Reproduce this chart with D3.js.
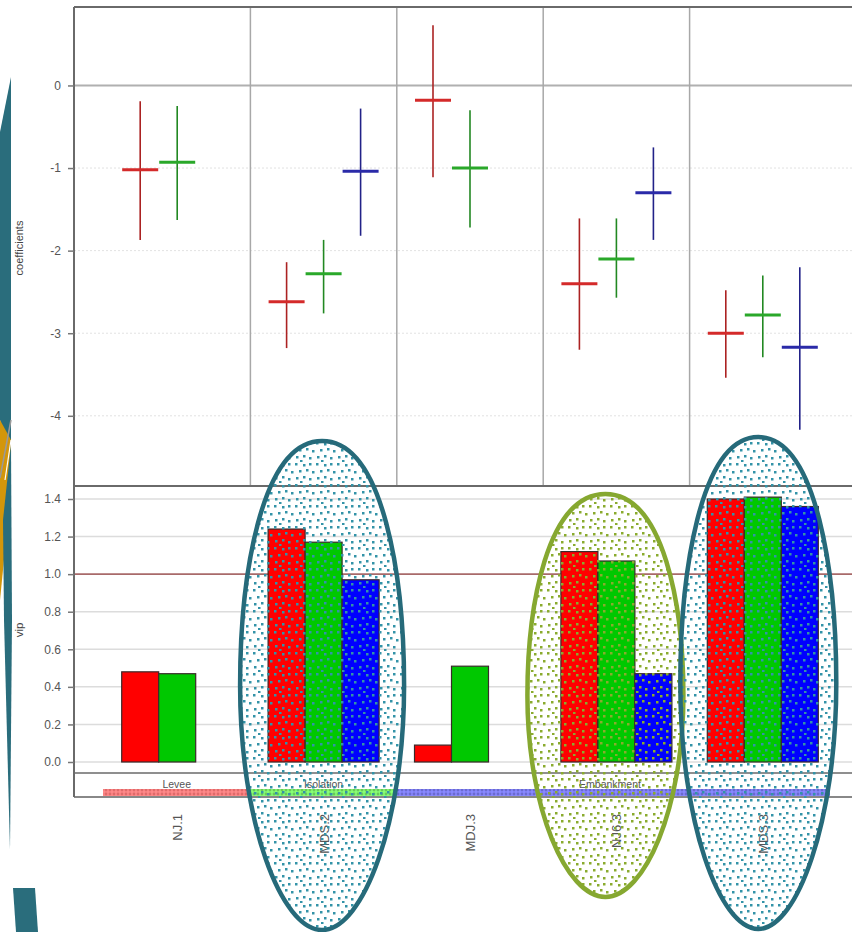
<!DOCTYPE html>
<html><head><meta charset="utf-8">
<script src="https://cdn.jsdelivr.net/npm/d3@7"></script>
<style>body{margin:0;background:#fff}svg{display:block}</style>
</head><body>
<svg id="c" width="852" height="932"></svg>
<script>
// ---- data ----
const categories = ["NJ.1", "MDS.2", "MDJ.3", "NJ6.3", "MDS.3"];
const seriesKeys = ["red", "green", "blue"];
const seriesColors = ["#ff0000", "#00c800", "#0000ff"];
const crossColors = ["#d42a2a", "#2aa82a", "#2a2aa8"];
// coefficients: [estimate, upper, lower]
const coefRed   = [[-1.02,-0.19,-1.87],[-2.62,-2.14,-3.18],[-0.18,0.73,-1.11],[-2.40,-1.61,-3.20],[-3.00,-2.48,-3.54]];
const coefGreen = [[-0.93,-0.25,-1.63],[-2.28,-1.87,-2.76],[-1.00,-0.30,-1.72],[-2.10,-1.61,-2.57],[-2.78,-2.30,-3.29]];
const coefBlue  = [null,[-1.04,-0.28,-1.82],null,[-1.30,-0.75,-1.87],[-3.17,-2.20,-4.17]];
const vipRed   = [0.48, 1.24, 0.09, 1.12, 1.40];
const vipGreen = [0.47, 1.17, 0.51, 1.07, 1.41];
const vipBlue  = [null, 0.97, null, 0.47, 1.36];
const coefTicks = [0, -1, -2, -3, -4];
const vipTicks = [0, 0.2, 0.4, 0.6, 0.8, 1.0, 1.2, 1.4];
const groupLabels = ["Levee", "Isolation", "Embankment"];
const groupStart = [0, 1, 2];
const groupEnd = [0, 1, 4];
const groupColors = ["#e06a6a", "#6ac85a", "#6a6ad0"];
const vipThreshold = 1.0;
// highlight annotations: category index, colour
const highlightCats = [1, 3, 4];
const highlightColors = ["#266a7a", "#86a830", "#266a7a"];

// ---- layout ----
const svg = d3.select("#c");
const L = 74, R = 852, T = 7, midY = 486, barBase = 773, stripBottom = 797;
const x = d3.scaleBand().domain(categories).range([104, 836]).paddingInner(0).paddingOuter(0);
const xs = d3.scaleBand().domain(seriesKeys).range([-55.5, 55.5]);
const yTop = d3.scaleLinear().domain([-4.85, 0.95]).range([midY, T]);
const yBot = d3.scaleLinear().domain([0, 1.4]).range([762, 499]);
const cx = c => x(c) + x.bandwidth() / 2;
const FONT = "Liberation Sans, Arial, sans-serif";

const defs = svg.append("defs");
function dotPattern(id, color) {
  const p = defs.append("pattern").attr("id", id).attr("patternUnits", "userSpaceOnUse")
    .attr("width", 21).attr("height", 21);
  [[1,1],[9,2],[15,1],[5,8],[12,7],[18,9],[2,15],[9,14],[15,16],[6,19]].forEach(([a,b]) =>
    p.append("rect").attr("x", a).attr("y", b).attr("width", 2.5).attr("height", 2.5).attr("fill", color));
}
dotPattern("dotTeal", "#3393a8");
dotPattern("dotGreen", "#8aab2e");
groupColors.forEach((col, i) => {
  const p = defs.append("pattern").attr("id", "band" + i).attr("patternUnits", "userSpaceOnUse")
    .attr("width", 4).attr("height", 4);
  p.append("rect").attr("width", 4).attr("height", 4).attr("fill", d3.color(col).brighter(0.7));
  p.append("circle").attr("cx", 2).attr("cy", 2).attr("r", 1.4).attr("fill", col);
});

// ---- top panel grid ----
const gTop = svg.append("g");
gTop.selectAll("line.h").data(coefTicks).join("line")
  .attr("x1", L).attr("x2", R)
  .attr("y1", d => yTop(d)).attr("y2", d => yTop(d))
  .attr("stroke", d => d === 0 ? "#b0b0b0" : "#e2e2e2")
  .attr("stroke-width", d => d === 0 ? 2 : 1)
  .attr("stroke-dasharray", d => d === 0 ? null : "2,2");
gTop.selectAll("line.v").data(categories.slice(1)).join("line")
  .attr("x1", d => x(d)).attr("x2", d => x(d))
  .attr("y1", T).attr("y2", midY).attr("stroke", "#a8a8a8").attr("stroke-width", 1.5);

// ---- bottom panel grid ----
const gBot = svg.append("g");
gBot.selectAll("line").data(vipTicks).join("line")
  .attr("x1", L).attr("x2", R)
  .attr("y1", d => yBot(d)).attr("y2", d => yBot(d))
  .attr("stroke", d => d === vipThreshold ? "#a86a6a" : "#dcdcdc")
  .attr("stroke-width", d => d === vipThreshold ? 1.8 : 1.5);

// ---- crosses ----
const coefSets = [coefRed, coefGreen, coefBlue];
coefSets.forEach((set, si) => {
  const g = svg.append("g");
  const data = set.map((v, i) => v ? {c: categories[i], v} : null).filter(Boolean);
  const xc = d => cx(d.c) + xs(seriesKeys[si]) + xs.bandwidth() / 2;
  g.selectAll("line.v").data(data).join("line")
    .attr("x1", xc).attr("x2", xc)
    .attr("y1", d => yTop(d.v[1])).attr("y2", d => yTop(d.v[2]))
    .attr("stroke", d3.color(crossColors[si]).darker(0.6)).attr("stroke-width", 1.6);
  g.selectAll("line.hh").data(data).join("line")
    .attr("x1", d => xc(d) - 18).attr("x2", d => xc(d) + 18)
    .attr("y1", d => yTop(d.v[0])).attr("y2", d => yTop(d.v[0]))
    .attr("stroke", crossColors[si]).attr("stroke-width", 3);
});

// ---- bars ----
const vipSets = [vipRed, vipGreen, vipBlue];
vipSets.forEach((set, si) => {
  const data = set.map((v, i) => v == null ? null : {c: categories[i], v}).filter(Boolean);
  svg.append("g").selectAll("rect").data(data).join("rect")
    .attr("x", d => cx(d.c) + xs(seriesKeys[si]))
    .attr("width", xs.bandwidth())
    .attr("y", d => yBot(d.v)).attr("height", d => yBot(0) - yBot(d.v))
    .attr("fill", seriesColors[si]).attr("stroke", "#3a2a2a").attr("stroke-width", 1.2);
});

// ---- group strip ----
const gs = svg.append("g");
groupLabels.forEach((lab, i) => {
  const x0 = x(categories[groupStart[i]]) - (i === 0 ? 1 : 0);
  const x1 = x(categories[groupEnd[i]]) + x.bandwidth() - (i === 2 ? 6 : 0);
  gs.append("rect").attr("x", x0).attr("y", 789).attr("width", x1 - x0).attr("height", 7)
    .attr("fill", "url(#band" + i + ")");
  gs.append("text").attr("x", i === 2 ? 610 : (x0 + x1) / 2).attr("y", 788)
    .attr("text-anchor", "middle").attr("font-family", FONT)
    .attr("font-size", 10.5).attr("fill", "#555").text(lab);
});

// ---- frame ----
const frame = svg.append("g").attr("stroke", "#6a6a6a").attr("fill", "none");
frame.append("line").attr("x1", L).attr("x2", R).attr("y1", T).attr("y2", T).attr("stroke-width", 2);
frame.append("line").attr("x1", L).attr("x2", R).attr("y1", midY).attr("y2", midY).attr("stroke-width", 2);
frame.append("line").attr("x1", L).attr("x2", R).attr("y1", barBase).attr("y2", barBase).attr("stroke-width", 1.5);
frame.append("line").attr("x1", L).attr("x2", R).attr("y1", stripBottom).attr("y2", stripBottom).attr("stroke-width", 2).attr("stroke", "#888");
frame.append("line").attr("x1", L).attr("x2", L).attr("y1", T).attr("y2", stripBottom).attr("stroke-width", 2);

// ---- axes ----
const axTop = svg.append("g").attr("transform", `translate(${L},0)`)
  .call(d3.axisLeft(yTop).tickValues(coefTicks).tickFormat(d => String(d)).tickSize(6).tickPadding(7));
const axBot = svg.append("g").attr("transform", `translate(${L},0)`)
  .call(d3.axisLeft(yBot).tickValues(vipTicks).tickFormat(d => d.toFixed(1)).tickSize(6).tickPadding(7));
[axTop, axBot].forEach(a => {
  a.select(".domain").remove();
  a.selectAll(".tick line").attr("stroke", "#777").attr("stroke-width", 1.5);
  a.selectAll(".tick text").attr("fill", "#555").attr("font-size", 12).attr("font-family", FONT);
});
svg.append("text").attr("transform", "translate(23,248) rotate(-90)").attr("text-anchor", "middle")
  .attr("font-family", FONT).attr("font-size", 11).attr("fill", "#444").text("coefficients");
svg.append("text").attr("transform", "translate(23,630) rotate(-90)").attr("text-anchor", "middle")
  .attr("font-family", FONT).attr("font-size", 11.5).attr("fill", "#444").text("vip");

// category labels
svg.append("g").selectAll("text").data(categories).join("text")
  .attr("transform", d => `translate(${cx(d) + 5},814) rotate(-90)`)
  .attr("text-anchor", "end").attr("font-family", FONT)
  .attr("font-size", 13).attr("fill", "#555").text(d => d);

// ---- highlight ellipses (egg-shaped) ----
const ellGeom = {1: {dx: -1.5, top: 441, bot: 930, rx: 82}, 3: {dx: -11, top: 494, bot: 897, rx: 78}, 4: {dx: -4.5, top: 437, bot: 929, rx: 78}};
function eggPath(i) {
  const g = ellGeom[i], c = cx(categories[i]) + g.dx;
  const h = g.bot - g.top, my = g.top + h * 0.5;
  return `M${c},${g.top} C${c + g.rx * 0.75},${g.top} ${c + g.rx},${g.top + h * 0.28} ${c + g.rx},${my}`
    + ` C${c + g.rx},${g.top + h * 0.78} ${c + g.rx * 0.5},${g.bot} ${c},${g.bot}`
    + ` C${c - g.rx * 0.5},${g.bot} ${c - g.rx},${g.top + h * 0.78} ${c - g.rx},${my}`
    + ` C${c - g.rx},${g.top + h * 0.28} ${c - g.rx * 0.75},${g.top} ${c},${g.top} Z`;
}
svg.append("g").selectAll("path").data(highlightCats).join("path")
  .attr("d", eggPath)
  .attr("fill", (i, k) => k === 1 ? "url(#dotGreen)" : "url(#dotTeal)")
  .attr("stroke", (i, k) => highlightColors[k]).attr("stroke-width", 4.5);

// ---- left edge decoration ----
const deco = svg.append("g");
deco.append("path").attr("d", "M11,77 L0,132 L0,420 L11,470 Z").attr("fill", "#2a6d7c");
deco.append("path").attr("d", "M0,420 L11,440 L8,520 L0,600 Z").attr("fill", "#d3960a");
deco.append("path").attr("d", "M11,445 L3,520 L4,620 L10,850 L12,620 Z").attr("fill", "#2a6d7c");
deco.append("line").attr("x1", 11).attr("y1", 420).attr("x2", 0).attr("y2", 478).attr("stroke", "#999").attr("stroke-width", 1.5);
deco.append("line").attr("x1", 11).attr("y1", 440).attr("x2", 5).attr("y2", 480).attr("stroke", "#fff").attr("stroke-width", 1.2);
deco.append("path").attr("d", "M13,888 L35,888 L38,932 L16,932 Z").attr("fill", "#2a6d7c");
</script>
</body></html>
